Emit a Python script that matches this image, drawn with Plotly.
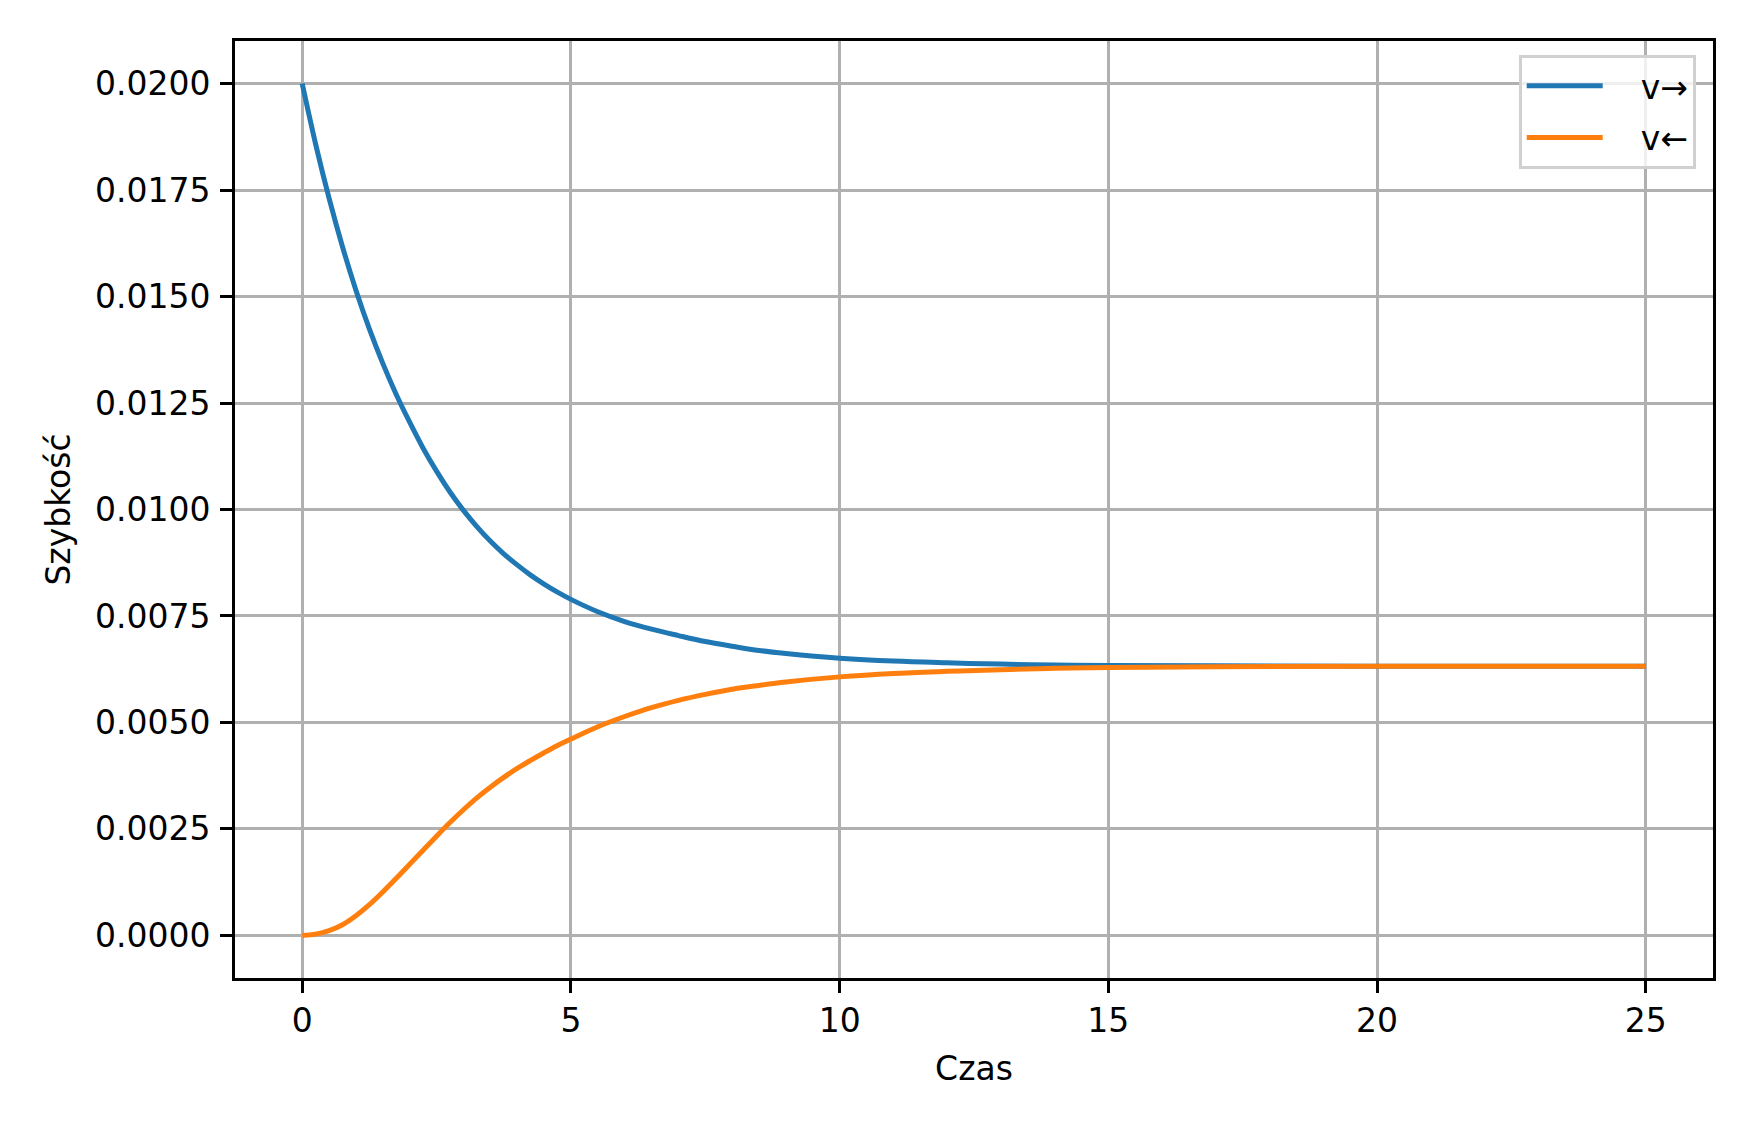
import plotly.graph_objects as go

czas = [0, 0.25, 0.5, 0.75, 1, 1.25, 1.5, 1.75, 2, 2.25, 2.5, 2.75, 3, 3.25, 3.5,
        3.75, 4, 4.25, 4.5, 4.75, 5, 5.5, 6, 6.5, 7, 7.5, 8, 8.5, 9, 10, 11, 12, 13,
        14, 15, 17, 20, 25]
v_prawo = [0.0200, 0.01858, 0.01731, 0.01617, 0.01515, 0.01424, 0.01343, 0.01270,
           0.01205, 0.01144, 0.01090, 0.01041, 0.00998, 0.00960, 0.00926, 0.00896,
           0.00870, 0.00846, 0.00825, 0.00806, 0.00789, 0.00760, 0.00737, 0.00719,
           0.00704, 0.00690, 0.00679, 0.00669, 0.00662, 0.00651, 0.00644, 0.00640,
           0.00637, 0.00635, 0.00634, 0.00633, 0.00632, 0.00632]
v_lewo = [0.0, 0.00003, 0.00011, 0.00025, 0.00046, 0.00072, 0.00102, 0.00134,
          0.00167, 0.00200, 0.00233, 0.00265, 0.00295, 0.00323, 0.00348, 0.00371,
          0.00392, 0.00411, 0.00429, 0.00446, 0.00461, 0.00490, 0.00514, 0.00535,
          0.00552, 0.00566, 0.00578, 0.00587, 0.00595, 0.00607, 0.00615, 0.00620,
          0.00624, 0.00627, 0.00629, 0.00631, 0.00632, 0.00632]
x_ticks = [0, 5, 10, 15, 20, 25]
y_ticks = [0.0, 0.0025, 0.005, 0.0075, 0.01, 0.0125, 0.015, 0.0175, 0.02]

font = 'DejaVu Sans'

fig = go.Figure()
fig.add_trace(go.Scatter(x=czas, y=v_prawo, mode='lines', name='\u2003v→', legendgroup='a',
                         line=dict(color='#1f77b4', width=5, shape='spline', smoothing=1.0)))
fig.add_trace(go.Scatter(x=czas, y=v_lewo, mode='lines', name='\u2003v←', legendgroup='b',
                         line=dict(color='#ff7f0e', width=5, shape='spline', smoothing=1.0)))

axis_style = dict(showline=True, linecolor='black', linewidth=2.7, mirror=True,
                  showgrid=True, gridcolor='#b0b0b0', gridwidth=2.7, zeroline=False,
                  ticks='outside', ticklen=12, tickwidth=2.7, tickcolor='black',
                  tickfont=dict(family=font, size=33, color='black'))

fig.update_xaxes(range=[-1.25, 26.25], tickvals=x_ticks, ticklabelstandoff=0,
                 title=dict(text='Czas', font=dict(family=font, size=33, color='black'), standoff=18),
                 **axis_style)
fig.update_yaxes(range=[-0.001, 0.021], tickvals=y_ticks, tickformat='.4f', ticklabelstandoff=3,
                 title=dict(text='Szybkość', font=dict(family=font, size=33, color='black'), standoff=15),
                 **axis_style)

fig.update_layout(
    width=1750, height=1125,
    margin=dict(l=235, r=37, t=41, b=147),
    paper_bgcolor='white', plot_bgcolor='white',
    font=dict(family=font, size=33, color='black'),
    showlegend=True,
    legend=dict(x=0.9885, y=0.985, xanchor='right', yanchor='top', itemwidth=76,
                bgcolor='rgba(255,255,255,0.8)', bordercolor='#d0d0d0', borderwidth=2.7,
                font=dict(family=font, size=33, color='black'), tracegroupgap=6),
)

# page has default body margin, drop it so the figure sits at 0,0
fig.write_html("out.html", config={'displayModeBar': False},
               post_script="document.body.style.margin='0';")
